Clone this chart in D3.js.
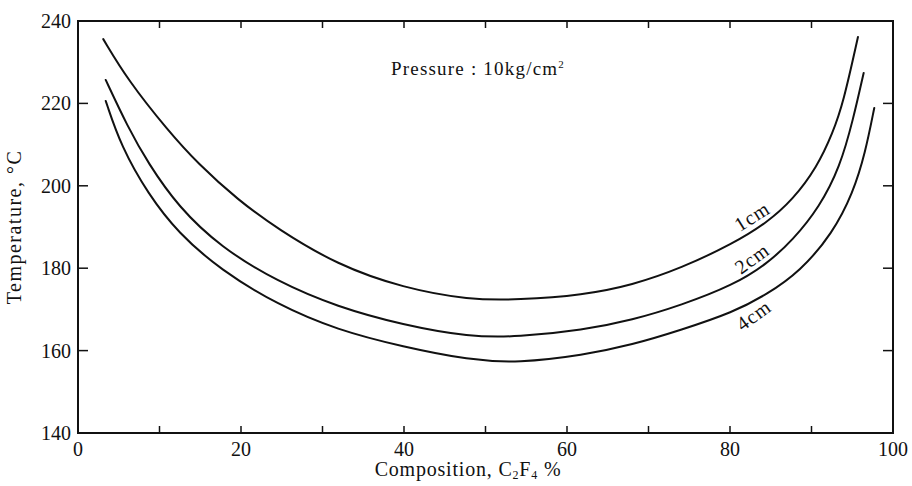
<!DOCTYPE html>
<html>
<head>
<meta charset="utf-8">
<script src="https://cdn.jsdelivr.net/npm/d3@7"></script>
<style>
  body { margin: 0; background: #fff; }
  text { font-family: "Liberation Serif", "DejaVu Serif", serif; fill: #111; }
</style>
</head>
<body>
<div id="chart"></div>
<script>
// curve data: [composition %, temperature °C]
var curve1cm = [[3.1,235.6],[6.1,225.7],[11,213.5],[14.7,205.4],[19.6,196.6],[24.5,189.5],[31.8,180.8],[39.9,175.2],[48,172.3],[54,172.3],[62,173.5],[68,175.9],[74,180],[80.4,186],[84.5,191],[87.7,196.6],[90.7,204.6],[92.6,212.8],[93.9,220.1],[95.7,236.1]];
var curve2cm = [[3.4,225.7],[6.1,214.3],[8.6,205.5],[12.3,194.9],[17.5,185.1],[24.5,176.7],[31.8,170.6],[39.9,166.2],[48,163.3],[54,163.3],[62,165],[68,167.4],[74,171],[80.4,175.9],[84.5,181],[87.7,186.8],[91,194.9],[93.5,204.6],[95.1,216],[96.4,227.4]];
var curve4cm = [[3.4,220.6],[5.3,209.5],[8.6,198],[12.3,188.5],[17.5,179.6],[24.5,171.1],[31.8,165],[39.9,160.9],[48,157.7],[54,157],[62,158.9],[68,161.4],[74,165],[80.4,169.3],[84.5,173.6],[88.6,179.2],[92.6,188.5],[95.1,198.3],[96.6,208],[97.7,218.9]];
var curveNames = ["1cm", "2cm", "4cm"];
// where each curve's name sits: [composition, temperature, angle]
var labelSpots = [[82.7,192.6,-32],[82.7,182.4,-36],[82.9,168.6,-36]];
var xTicks = [0, 20, 40, 60, 80, 100];
var xMinor = [10, 30, 50, 70, 90];
var yTicks = [140, 160, 180, 200, 220, 240];

var margin = {top: 21, right: 19, bottom: 53, left: 78},
    width = 912 - margin.left - margin.right,
    height = 486 - margin.top - margin.bottom;

var svg = d3.select("#chart")
  .append("svg")
    .attr("width", 912)
    .attr("height", 486)
  .append("g")
    .attr("transform", "translate(" + margin.left + "," + margin.top + ")");

var x = d3.scaleLinear().domain([0, 100]).range([0, width]);
var y = d3.scaleLinear().domain([140, 240]).range([height, 0]);

// frame
svg.append("rect")
  .attr("width", width)
  .attr("height", height)
  .attr("fill", "none")
  .attr("stroke", "#111")
  .attr("stroke-width", 2);

// ticks point inward on all four sides
var allX = xTicks.concat(xMinor).filter(function(d) { return d > 0 && d < 100; });
svg.selectAll(".xb").data(allX).enter().append("line")
  .attr("x1", function(d) { return x(d); }).attr("x2", function(d) { return x(d); })
  .attr("y1", height).attr("y2", height - 7)
  .attr("stroke", "#111").attr("stroke-width", 1.5);
svg.selectAll(".xt").data(allX).enter().append("line")
  .attr("x1", function(d) { return x(d); }).attr("x2", function(d) { return x(d); })
  .attr("y1", 0).attr("y2", 7)
  .attr("stroke", "#111").attr("stroke-width", 1.5);
var innerY = yTicks.filter(function(d) { return d > 140 && d < 240; });
svg.selectAll(".yl").data(innerY).enter().append("line")
  .attr("x1", 0).attr("x2", 10)
  .attr("y1", function(d) { return y(d); }).attr("y2", function(d) { return y(d); })
  .attr("stroke", "#111").attr("stroke-width", 1.5);
svg.selectAll(".yr").data(innerY).enter().append("line")
  .attr("x1", width).attr("x2", width - 10)
  .attr("y1", function(d) { return y(d); }).attr("y2", function(d) { return y(d); })
  .attr("stroke", "#111").attr("stroke-width", 1.5);

// tick labels
svg.selectAll(".xl").data(xTicks).enter().append("text")
  .attr("x", function(d) { return x(d); })
  .attr("y", height + 23)
  .attr("text-anchor", "middle")
  .style("font-size", "20px")
  .text(function(d) { return d; });
svg.selectAll(".ylab").data(yTicks).enter().append("text")
  .attr("x", -7)
  .attr("y", function(d) { return y(d) + 7; })
  .attr("text-anchor", "end")
  .style("font-size", "20px")
  .text(function(d) { return d; });

// axis titles
var xt = svg.append("text")
  .attr("x", 390)
  .attr("y", height + 43)
  .attr("text-anchor", "middle")
  .style("font-size", "20px")
  .style("letter-spacing", "0.8px");
xt.append("tspan").text("Composition, C");
xt.append("tspan").attr("dy", 3).style("font-size", "12px").text("2");
xt.append("tspan").attr("dy", -3).text("F");
xt.append("tspan").attr("dy", 3).style("font-size", "12px").text("4");
xt.append("tspan").attr("dy", -3).text(" %");

svg.append("text")
  .attr("transform", "translate(" + (-57) + "," + 206 + ") rotate(-90)")
  .attr("text-anchor", "middle")
  .style("font-size", "20px")
  .style("letter-spacing", "1.5px")
  .text("Temperature, °C");

// pressure note
var pt = svg.append("text")
  .attr("x", 313)
  .attr("y", 54)
  .style("font-size", "19px")
  .style("letter-spacing", "1.2px");
pt.append("tspan").text("Pressure :  10kg/cm");
pt.append("tspan").attr("dy", -7).style("font-size", "11px").text("2");

// curves
var line = d3.line()
  .curve(d3.curveBasis)
  .x(function(d) { return x(d[0]); })
  .y(function(d) { return y(d[1]); });

svg.selectAll(".curve")
  .data([curve1cm, curve2cm, curve4cm])
  .enter()
  .append("path")
    .attr("d", line)
    .attr("fill", "none")
    .attr("stroke", "#111")
    .attr("stroke-width", 2)
    .attr("stroke-linecap", "round");

svg.selectAll(".clabel")
  .data(curveNames)
  .enter()
  .append("text")
    .attr("transform", function(d, i) {
      var s = labelSpots[i];
      return "translate(" + x(s[0]) + "," + y(s[1]) + ") rotate(" + s[2] + ")";
    })
    .attr("text-anchor", "middle")
    .attr("dy", "0.35em")
    .style("font-size", "20px")
    .style("letter-spacing", "1px")
    .text(function(d) { return d; });
</script>
</body>
</html>
